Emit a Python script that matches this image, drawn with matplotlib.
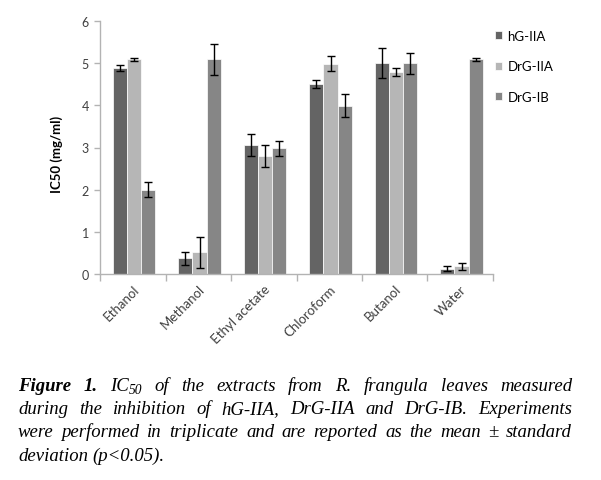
import numpy as np
import matplotlib
matplotlib.use("Agg")
import matplotlib.pyplot as plt

categories = ["Ethanol", "Methanol", "Ethyl acetate", "Chloroform", "Butanol", "Water"]
series = ["hG-IIA", "DrG-IIA", "DrG-IB"]
hg_iia = [4.88, 0.37, 3.07, 4.51, 5.00, 0.13]
hg_iia_sd = [0.07, 0.15, 0.26, 0.09, 0.36, 0.05]
drg_iia = [5.09, 0.51, 2.80, 4.99, 4.79, 0.18]
drg_iia_sd = [0.04, 0.36, 0.27, 0.17, 0.09, 0.09]
drg_ib = [2.00, 5.09, 2.98, 3.99, 5.00, 5.09]
drg_ib_sd = [0.17, 0.37, 0.17, 0.27, 0.25, 0.04]
yticks = [0, 1, 2, 3, 4, 5, 6]

caption_lines = [
    "Figure 1. IC50 of the extracts from R. frangula leaves measured",
    "during the inhibition of hG-IIA, DrG-IIA and DrG-IB. Experiments",
    "were performed in triplicate and are reported as the mean \u00b1 standard",
    "deviation (p<0.05).",
]

colors = ["#646464", "#b6b6b6", "#868686"]
axis_grey = "#b3b3b3"
sans = ["Lato", "DejaVu Sans"]

W, H = 601, 481
fig = plt.figure(figsize=(W / 100, H / 100), dpi=100)
ax = fig.add_axes([100 / W, 1 - 275 / H, 393 / W, 253 / H])

x = np.arange(len(categories))
width = 0.218
vals = [hg_iia, drg_iia, drg_ib]
sds = [hg_iia_sd, drg_iia_sd, drg_ib_sd]
for i in range(3):
    ax.bar(x + (i - 1) * width + 0.02, vals[i], width, color=colors[i],
           edgecolor="white", linewidth=0.5, label=series[i],
           yerr=sds[i], capsize=2.6,
           error_kw=dict(ecolor="black", elinewidth=1.0, capthick=1.0))

ax.set_xlim(-0.5, len(categories) - 0.5)
ax.set_ylim(0, 6)
ax.set_yticks(yticks)
ax.set_yticklabels([str(t) for t in yticks], fontsize=9, family=sans, color="#404040")
ax.set_xticks(x)
ax.set_xticklabels(categories, rotation=45, ha="right", rotation_mode="anchor",
                   fontsize=9.5, family=sans, color="#404040")
ax.set_xticks(np.arange(-0.5, len(categories)), minor=True)
ax.tick_params(axis="x", which="major", length=0, pad=6)
ax.tick_params(axis="x", which="minor", length=5, color=axis_grey, width=1)
ax.tick_params(axis="y", length=4, color=axis_grey, width=1, pad=4)
for s in ["top", "right"]:
    ax.spines[s].set_visible(False)
for s in ["left", "bottom"]:
    ax.spines[s].set_color(axis_grey)
    ax.spines[s].set_linewidth(1)

fig.text(57 / W, 1 - 154 / H, "IC50 (mg/ml)", rotation=90, ha="center", va="center",
         fontsize=9.5, fontweight="bold", family=sans)

handles, labels = ax.get_legend_handles_labels()
handles = [h.patches[0] if hasattr(h, "patches") else h for h in handles]
fig.legend(handles, labels, loc="upper left", bbox_to_anchor=(495 / W, 1 - 31 / H),
           frameon=False, borderpad=0, borderaxespad=0, handlelength=0.55,
           handleheight=0.55, handletextpad=0.4, labelspacing=1.4,
           prop=dict(family=sans, size=9.5))

# caption, justified
cap_font = "Liberation Serif"
cap_size = 13.5
left_px, right_px = 18, 572
base_px = [391, 414, 437, 461]

fig.canvas.draw()
renderer = fig.canvas.get_renderer()


def parts(word, bold):
    w = "bold" if bold else "normal"
    if word == "IC50":
        return [("IC", 0, cap_size, w), ("50", -3.5, cap_size * 0.72, w)]
    return [(word, 0, cap_size, w)]


def text_width(s, size, weight):
    t = fig.text(0, 0, s, fontsize=size, family=cap_font, style="italic", fontweight=weight)
    wd = t.get_window_extent(renderer).width
    t.remove()
    return wd


space_w = text_width("a a", cap_size, "normal") - text_width("aa", cap_size, "normal")

for li, line in enumerate(caption_lines):
    words = line.split(" ")
    wparts = [parts(w, li == 0 and k < 2) for k, w in enumerate(words)]
    widths = [sum(text_width(s, sz, wt) for s, _, sz, wt in p) for p in wparts]
    if li < len(caption_lines) - 1:
        gap = (right_px - left_px - sum(widths)) / (len(words) - 1)
    else:
        gap = space_w
    cx = left_px
    for p, wd in zip(wparts, widths):
        px = cx
        for s, dy, sz, wt in p:
            fig.text(px / W, 1 - (base_px[li] - dy) / H, s, fontsize=sz, family=cap_font,
                     style="italic", fontweight=wt, va="baseline", ha="left")
            px += text_width(s, sz, wt)
        cx += wd + gap

fig.savefig("out.png", dpi=100)
